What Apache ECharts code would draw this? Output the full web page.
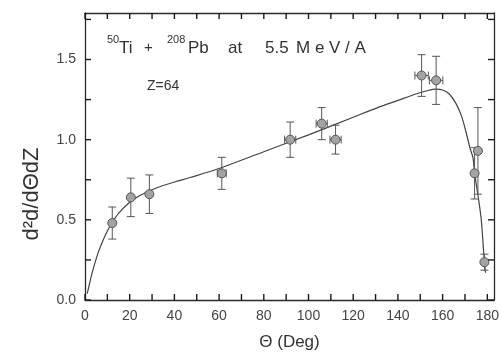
<!DOCTYPE html>
<html><head><meta charset="utf-8">
<script src="https://cdn.jsdelivr.net/npm/echarts@6/dist/echarts.min.js"></script>
<style>html,body{margin:0;padding:0;background:#fff}#c{width:502px;height:356px}</style>
</head><body><div id="c"></div>
<script>
// measured points
const theta     = [12.2, 20.5, 28.8, 61.2, 91.8, 105.9, 112.1, 150.6, 157.1, 174.3, 175.8, 178.7];
const yieldVals = [0.48, 0.64, 0.66, 0.79, 1.00, 1.10, 1.00, 1.40, 1.37, 0.79, 0.93, 0.236];
const yErr      = [0.10, 0.12, 0.12, 0.10, 0.11, 0.10, 0.09, 0.13, 0.15, 0.16, 0.27, 0.05];
const xErr      = [0, 0, 0, 2, 2.5, 2.5, 2.5, 3, 3, 0, 0, 0];
// model curve
const curveTheta = [1, 2, 3, 4, 6, 8, 10, 12, 15, 20, 25, 30, 35, 40, 47, 60, 80, 100, 120, 131, 140, 148, 153, 157, 160, 163, 166, 168.5, 170.6, 172.2, 173.6, 174.3, 176.1, 177.3, 178.7, 179.2];
const curveVals  = [0.04, 0.10, 0.16, 0.21, 0.30, 0.37, 0.43, 0.48, 0.54, 0.61, 0.655, 0.688, 0.714, 0.736, 0.764, 0.82, 0.925, 1.03, 1.14, 1.20, 1.245, 1.285, 1.305, 1.315, 1.31, 1.285, 1.225, 1.145, 1.04, 0.95, 0.886, 0.79, 0.627, 0.50, 0.236, 0.17];
// tick labels and tick marks
const xTicks = [0, 20, 40, 60, 80, 100, 120, 140, 160, 180];
const yTicks = [0.0, 0.5, 1.0, 1.5];
const xTickMarks = [0, 10, 20, 30, 40, 50, 60, 70, 80, 90, 100, 110, 120, 130, 140, 150, 160, 170, 180];
const yTickMarks = [0, 0.25, 0.5, 0.75, 1.0, 1.25, 1.5, 1.75];

const X_MAX = 183, Y_MAX = 1.79;
const AX = '#2a2a2a';
const chart = echarts.init(document.getElementById('c'), null, {renderer: 'canvas'});

const ptsData = theta.map((t, i) => [t, yieldVals[i]]);
const errData = theta.map((t, i) => [t, yieldVals[i], yErr[i], xErr[i]]);
const curveData = curveTheta.map((t, i) => [t, curveVals[i]]);
const xTickData = xTickMarks.map(v => [v, 0]);
const yTickData = yTickMarks.map(v => [0, v]);

function errItem(params, api) {
  const x = api.value(0), y = api.value(1), e = api.value(2), xe = api.value(3);
  const top = api.coord([x, y + e]), bot = api.coord([x, y - e]);
  const c = api.coord([x, y]);
  const st = {stroke: '#555', lineWidth: 1};
  const ch = [
    {type: 'line', shape: {x1: top[0], y1: top[1], x2: bot[0], y2: bot[1]}, style: st},
    {type: 'line', shape: {x1: top[0] - 4, y1: top[1], x2: top[0] + 4, y2: top[1]}, style: st},
    {type: 'line', shape: {x1: bot[0] - 4, y1: bot[1], x2: bot[0] + 4, y2: bot[1]}, style: st}
  ];
  if (xe > 0) {
    const l = api.coord([x - xe, y]), r = api.coord([x + xe, y]);
    ch.push({type: 'line', shape: {x1: l[0], y1: c[1], x2: r[0], y2: c[1]}, style: st});
    ch.push({type: 'line', shape: {x1: l[0], y1: c[1] - 4, x2: l[0], y2: c[1] + 4}, style: st});
    ch.push({type: 'line', shape: {x1: r[0], y1: c[1] - 4, x2: r[0], y2: c[1] + 4}, style: st});
  }
  return {type: 'group', children: ch};
}

const TL = 6;
const tst = {stroke: '#1a1a1a', lineWidth: 1.4};
// inward ticks along bottom and top, positioned by the x scale
function xTickItem(params, api) {
  const v = api.value(0);
  const b = api.coord([v, 0]), t = api.coord([v, Y_MAX]);
  return {type: 'group', children: [
    {type: 'line', shape: {x1: b[0], y1: b[1], x2: b[0], y2: b[1] - TL}, style: tst},
    {type: 'line', shape: {x1: t[0], y1: t[1], x2: t[0], y2: t[1] + TL}, style: tst}
  ]};
}
// inward ticks along left and right, positioned by the y scale
function yTickItem(params, api) {
  const v = api.value(1);
  const l = api.coord([0, v]), r = api.coord([X_MAX, v]);
  return {type: 'group', children: [
    {type: 'line', shape: {x1: l[0], y1: l[1], x2: l[0] + TL, y2: l[1]}, style: tst},
    {type: 'line', shape: {x1: r[0], y1: r[1], x2: r[0] - TL, y2: r[1]}, style: tst}
  ]};
}

const FONT = 'Liberation Sans';
const line = () => ({show: true, onZero: false, lineStyle: {color: AX, width: 1.3}});
const option = {
  backgroundColor: '#fff',
  animation: false,
  grid: {left: 85, right: 5, top: 13, bottom: 55},
  xAxis: [
    {type: 'value', min: 0, max: X_MAX, interval: 10, position: 'bottom',
     axisLine: line(), axisTick: {show: false},
     splitLine: {show: false},
     axisLabel: {formatter: v => xTicks.includes(v) ? String(v) : '', color: '#444', fontSize: 14, fontFamily: FONT, margin: 9, showMaxLabel: false},
     name: 'Θ (Deg)', nameLocation: 'middle', nameGap: 34,
     nameTextStyle: {fontSize: 17, color: '#333', fontFamily: FONT}},
    {type: 'value', min: 0, max: X_MAX, interval: 10, position: 'top',
     axisLine: line(), axisTick: {show: false},
     splitLine: {show: false}, axisLabel: {show: false}}
  ],
  yAxis: [
    {type: 'value', min: 0, max: Y_MAX, interval: 0.25, position: 'left',
     axisLine: line(), axisTick: {show: false},
     splitLine: {show: false},
     axisLabel: {formatter: v => yTicks.some(t => Math.abs(t - v) < 1e-6) ? v.toFixed(1) : '', color: '#444', fontSize: 14, fontFamily: FONT, margin: 9, showMaxLabel: false}},
    {type: 'value', min: 0, max: Y_MAX, interval: 0.25, position: 'right',
     axisLine: line(), axisTick: {show: false},
     splitLine: {show: false}, axisLabel: {show: false}}
  ],
  series: [
    {type: 'custom', data: xTickData, renderItem: xTickItem, clip: false, silent: true, z: 5},
    {type: 'custom', data: yTickData, renderItem: yTickItem, clip: false, silent: true, z: 5},
    {type: 'line', data: curveData, smooth: 0.3, showSymbol: false, symbol: 'none',
     lineStyle: {color: '#444', width: 1.2}, z: 2},
    {type: 'custom', data: errData, renderItem: errItem, z: 3},
    {type: 'scatter', data: ptsData, symbol: 'circle', symbolSize: 9,
     itemStyle: {color: '#a3a3a3', borderColor: '#555', borderWidth: 1, opacity: 1}, z: 4}
  ],
  graphic: [
    {type: 'text', x: 107, y: 40, style: {text: '50', font: '11px ' + FONT, fill: '#333', textVerticalAlign: 'middle'}},
    {type: 'text', x: 119, y: 48, style: {text: 'Ti', font: '17px ' + FONT, fill: '#333', textVerticalAlign: 'middle'}},
    {type: 'text', x: 144, y: 48, style: {text: '+', font: '15px ' + FONT, fill: '#333', textVerticalAlign: 'middle'}},
    {type: 'text', x: 167, y: 40, style: {text: '208', font: '11px ' + FONT, fill: '#333', textVerticalAlign: 'middle'}},
    {type: 'text', x: 188, y: 48, style: {text: 'Pb', font: '17px ' + FONT, fill: '#333', textVerticalAlign: 'middle'}},
    {type: 'text', x: 228, y: 48, style: {text: 'at', font: '17px ' + FONT, fill: '#333', textVerticalAlign: 'middle'}},
    {type: 'text', x: 265, y: 48, style: {text: '5.5', font: '17px ' + FONT, fill: '#333', textVerticalAlign: 'middle'}},
    {type: 'text', x: 296, y: 48, style: {text: 'M e V / A', font: '17px ' + FONT, fill: '#333', textVerticalAlign: 'middle'}},
    {type: 'text', x: 147, y: 86, style: {text: 'Z=64', font: '14px ' + FONT, fill: '#333', textVerticalAlign: 'middle'}},
    {type: 'text', x: 32, y: 194, rotation: Math.PI / 2,
     style: {text: 'd²d/dΘdZ', font: '22px ' + FONT, fill: '#333', textAlign: 'center', textVerticalAlign: 'middle'}}
  ]
};
chart.setOption(option);
</script></body></html>
